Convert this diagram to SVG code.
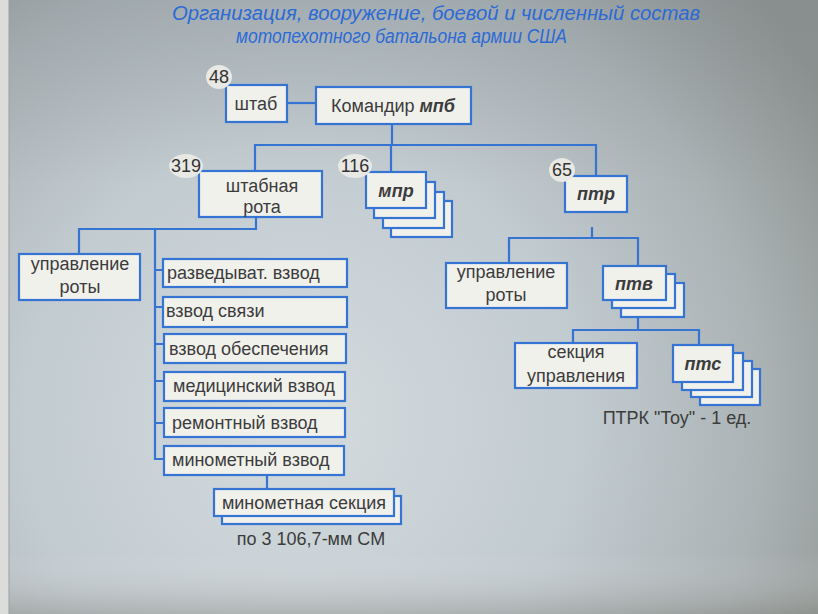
<svg xmlns="http://www.w3.org/2000/svg" width="818" height="614" viewBox="0 0 818 614">
<defs>
<radialGradient id="bg" cx="300" cy="420" r="620" gradientUnits="userSpaceOnUse">
<stop offset="0" stop-color="#d3dbde"/>
<stop offset="0.45" stop-color="#c2cbd0"/>
<stop offset="0.75" stop-color="#aab2b4"/>
<stop offset="1" stop-color="#8c918e"/>
</radialGradient>
<linearGradient id="vshade" x1="0" y1="0" x2="0" y2="1">
<stop offset="0" stop-color="#7f8a92" stop-opacity="0.25"/>
<stop offset="0.3" stop-color="#7f8a92" stop-opacity="0"/>
<stop offset="0.9" stop-color="#ffffff" stop-opacity="0"/>
<stop offset="1" stop-color="#77746a" stop-opacity="0.3"/>
</linearGradient>
<style>
.box{fill:#f1f1ec;stroke:#3574d2;stroke-width:2.2}
.ln{fill:none;stroke:#3574d2;stroke-width:2.2}
.t{font-family:"Liberation Sans",Arial,sans-serif;font-size:18px;fill:#3c3c3c}
.c{text-anchor:middle}
.bi{font-weight:bold;font-style:italic}
.num{fill:#e8e8e4}
.nt{font-family:"Liberation Sans",Arial,sans-serif;font-size:18px;fill:#333;text-anchor:middle}
.title{font-family:"Liberation Sans",Arial,sans-serif;font-size:20px;font-style:italic;fill:#2c6ad6}
</style>
</defs>
<rect width="818" height="614" fill="url(#bg)"/>
<rect width="818" height="614" fill="url(#vshade)"/>
<rect x="0" y="0" width="9" height="614" fill="#dcdcda"/>
<line x1="9" y1="0" x2="9" y2="614" stroke="#9aa0a8" stroke-width="1"/>

<g id="title">
<text class="title" x="172" y="20" textLength="528" lengthAdjust="spacingAndGlyphs">Организация, вооружение, боевой и численный состав</text>
<text class="title" x="236" y="43" textLength="331" lengthAdjust="spacingAndGlyphs">мотопехотного батальона армии США</text>
</g>

<g id="connectors">
<path class="ln" d="M287 103 H316"/>
<path class="ln" d="M392 124 V145"/>
<path class="ln" d="M255 171 V145 H596 V176"/>
<path class="ln" d="M391 145 V172"/>
<path class="ln" d="M256 217 V229 H79 V254"/>
<path class="ln" d="M155 229 V459 H164"/>
<path class="ln" d="M155 270 H163 M155 307 H163 M155 344 H163 M155 381 H164 M155 423 H164"/>
<path class="ln" d="M267 475 V489"/>
<path class="ln" d="M592 227 V238"/>
<path class="ln" d="M509 263 V238 H638 V266"/>
<path class="ln" d="M638 317 V330"/>
<path class="ln" d="M573 343 V330 H699 V345"/>
</g>

<g id="shtab">
<rect class="box" x="226" y="85" width="61" height="37"/>
<text class="t c" x="256" y="110">штаб</text>
<ellipse class="num" cx="219" cy="77" rx="13" ry="12"/>
<text class="nt" x="219" y="83">48</text>
</g>

<g id="komandir">
<rect class="box" x="316" y="87" width="155" height="37"/>
<text class="t c" x="393" y="112">Командир <tspan class="bi">мпб</tspan></text>
</g>

<g id="shtabnaya-rota">
<rect class="box" x="199" y="171" width="123" height="46"/>
<text class="t c" x="262" y="192">штабная</text>
<text class="t c" x="262" y="213">рота</text>
<ellipse class="num" cx="186" cy="166" rx="17" ry="12"/>
<text class="nt" x="186" y="172">319</text>
</g>

<g id="mpr">
<rect class="box" x="391" y="201" width="61" height="36"/>
<rect class="box" x="383" y="192" width="61" height="36"/>
<rect class="box" x="374" y="182" width="61" height="36"/>
<rect class="box" x="366" y="172" width="60" height="36"/>
<text class="t c bi" x="396" y="197">мпр</text>
<ellipse class="num" cx="355" cy="166" rx="17" ry="12"/>
<text class="nt" x="355" y="172">116</text>
</g>

<g id="ptr">
<rect class="box" x="565" y="176" width="62" height="36"/>
<text class="t c bi" x="596" y="200">птр</text>
<ellipse class="num" cx="562" cy="170" rx="13" ry="12"/>
<text class="nt" x="562" y="176">65</text>
</g>

<g id="upravlenie-roty-1">
<rect class="box" x="19" y="254" width="121" height="46"/>
<text class="t c" x="80" y="270">управление</text>
<text class="t c" x="80" y="293">роты</text>
</g>

<g id="razved">
<rect class="box" x="163" y="259" width="184" height="28"/>
<text class="t" x="167" y="279">разведыват. взвод</text>
</g>
<g id="svyaz">
<rect class="box" x="163" y="297" width="184" height="30"/>
<text class="t" x="166" y="317">взвод связи</text>
</g>
<g id="obesp">
<rect class="box" x="164" y="334" width="182" height="29"/>
<text class="t" x="169" y="355">взвод обеспечения</text>
</g>
<g id="med">
<rect class="box" x="164" y="372" width="181" height="29"/>
<text class="t" x="173" y="392">медицинский взвод</text>
</g>
<g id="remont">
<rect class="box" x="164" y="408" width="181" height="29"/>
<text class="t" x="172" y="429">ремонтный взвод</text>
</g>
<g id="minomet">
<rect class="box" x="164" y="446" width="180" height="29"/>
<text class="t" x="172" y="466">минометный взвод</text>
</g>

<g id="minomet-sekciya">
<rect class="box" x="222" y="496" width="179" height="28"/>
<rect class="box" x="214" y="489" width="180" height="27"/>
<text class="t c" x="304" y="509">минометная секция</text>
<text class="t c" x="311" y="545">по 3 106,7-мм СМ</text>
</g>

<g id="upravlenie-roty-2">
<rect class="box" x="446" y="263" width="121" height="45"/>
<text class="t c" x="506" y="278">управление</text>
<text class="t c" x="506" y="301">роты</text>
</g>

<g id="ptv">
<rect class="box" x="621" y="283" width="63" height="34"/>
<rect class="box" x="612" y="274" width="63" height="34"/>
<rect class="box" x="603" y="266" width="63" height="34"/>
<text class="t c bi" x="634" y="290">птв</text>
</g>

<g id="sekciya-upr">
<rect class="box" x="515" y="343" width="122" height="45"/>
<text class="t c" x="576" y="358">секция</text>
<text class="t c" x="576" y="382">управления</text>
</g>

<g id="pts">
<rect class="box" x="700" y="369" width="60" height="36"/>
<rect class="box" x="691" y="361" width="61" height="36"/>
<rect class="box" x="682" y="353" width="61" height="37"/>
<rect class="box" x="673" y="345" width="60" height="37"/>
<text class="t c bi" x="703" y="370">птс</text>
<text class="t c" x="677" y="424">ПТРК "Тоу" - 1 ед.</text>
</g>
</svg>
